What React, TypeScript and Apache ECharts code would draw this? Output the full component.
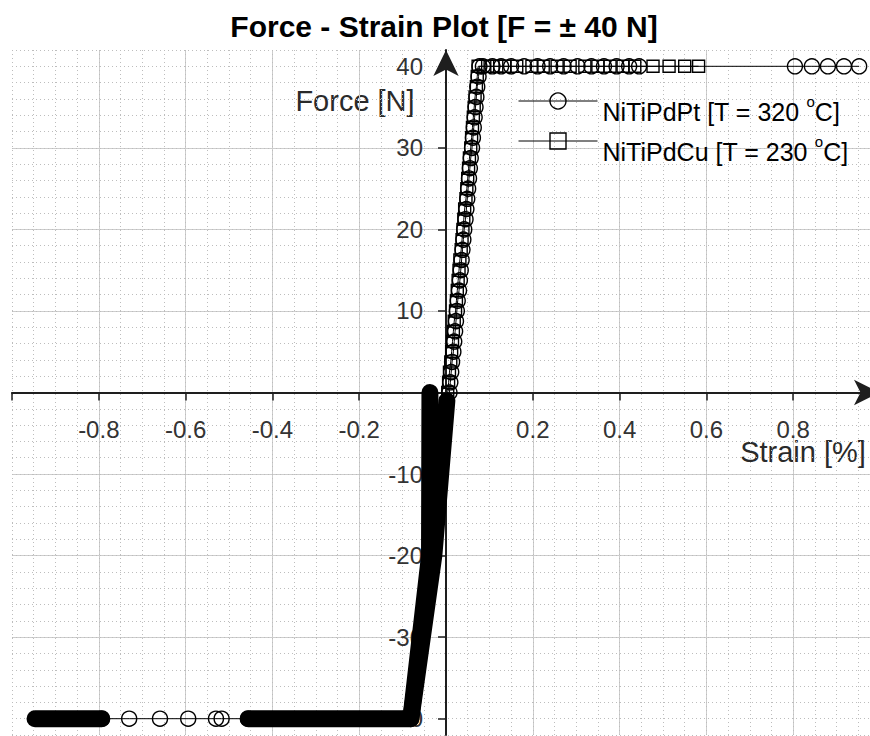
import { useEffect, useRef } from 'react';
import * as echarts from 'echarts';

const FONT = '"Liberation Sans", Arial, Helvetica, sans-serif';

// Axis ticks and the values that carry a label
const xTickValues = [-1, -0.8, -0.6, -0.4, -0.2, 0, 0.2, 0.4, 0.6, 0.8, 1];
const xTickLabels = [-0.8, -0.6, -0.4, -0.2, 0.2, 0.4, 0.6, 0.8];
const yTickValues = [-40, -30, -20, -10, 0, 10, 20, 30, 40];
const yTickLabels = [-40, -30, -20, -10, 10, 20, 30, 40];

// Legend entries
const alloys = ['NiTiPdPt', 'NiTiPdCu'];
const temperatures = [320, 230];

// Tension loading ramp, force steps shared by both alloys [N]
const rampForce = [
  0, 1.25, 2.5, 3.75, 5, 6.25, 7.5, 8.75, 10, 11.25, 12.5, 13.75, 15, 16.25, 17.5, 18.75, 20,
  21.25, 22.5, 23.75, 25, 26.25, 27.5, 28.75, 30, 31.25, 32.5, 33.75, 35, 36.25, 37.5, 38.75, 40,
];
const creepForce = 40;
const compressionForce = -40;

// NiTiPdCu strain [%]: ramp, then creep at 40 N
const cuRampStrain = [
  0.004, 0.006, 0.008, 0.011, 0.013, 0.015, 0.017, 0.019, 0.022, 0.024, 0.026, 0.028, 0.03, 0.032,
  0.035, 0.037, 0.039, 0.041, 0.043, 0.046, 0.048, 0.05, 0.052, 0.054, 0.057, 0.059, 0.061, 0.063,
  0.065, 0.067, 0.07, 0.072, 0.074,
];
const cuCreepStrain = [
  0.096, 0.117, 0.136, 0.163, 0.198, 0.224, 0.256, 0.286, 0.32, 0.35, 0.378, 0.408, 0.435, 0.477,
  0.514, 0.55, 0.582,
];

// NiTiPdPt strain [%]: ramp, then creep at 40 N
const ptRampStrain = [
  0.008, 0.01, 0.012, 0.014, 0.017, 0.019, 0.021, 0.023, 0.025, 0.027, 0.03, 0.032, 0.034, 0.036,
  0.038, 0.04, 0.042, 0.045, 0.047, 0.049, 0.051, 0.053, 0.055, 0.057, 0.06, 0.062, 0.064, 0.066,
  0.068, 0.07, 0.072, 0.075, 0.077,
];
const ptCreepStrain = [
  0.085, 0.107, 0.127, 0.15, 0.18, 0.211, 0.24, 0.271, 0.303, 0.335, 0.364, 0.393, 0.422, 0.445,
  0.804, 0.843, 0.88, 0.917, 0.952,
];

// NiTiPdPt compression: separate markers along -40 N
const ptCompressionStrain = [-0.793, -0.73, -0.659, -0.594, -0.53, -0.517, -0.456];

// NiTiPdPt compression runs sampled so densely that the markers merge into solid bands
const ptBandMainStrain = [-0.037, -0.038, -0.081, -0.456];
const ptBandMainForce = [0, -20, -40, -40];
const ptBandReturnStrain = [0.002, -0.028, -0.081];
const ptBandReturnForce = [-1, -20, -40];
const ptBandTailStrain = [-0.947, -0.793];
const ptBandTailForce = [-40, -40];

const pairs = (xs: number[], ys: number[]) => xs.map((x, i) => [x, ys[i]]);
const atForce = (xs: number[], f: number) => xs.map((x) => [x, f]);

const hollow = { color: 'transparent', borderColor: '#000', borderWidth: 1.4 };
const thinLine = { color: '#000', width: 1 };
const bandLine = { color: '#000', width: 17, cap: 'round' as const, join: 'round' as const };
const axisInk = '#1e1e1e';

// Plot frame: the axes cross at the origin, drawn as edge axes shifted inward
const GRID = { left: 12, right: -10, top: 50, bottom: 1 };
const X_RANGE = [-1, 1];
const Y_RANGE = [-42, 42];

export default function App() {
  const ref = useRef<HTMLDivElement>(null);

  useEffect(() => {
    if (!ref.current) return;
    const el = ref.current;
    const chart = echarts.init(el, undefined, { renderer: 'svg' });

    const plotW = el.clientWidth - GRID.left - GRID.right;
    const plotH = el.clientHeight - GRID.top - GRID.bottom;
    // distance from the grid's left / bottom edge to the zero line
    const yAxisShift = (plotW * (0 - X_RANGE[0])) / (X_RANGE[1] - X_RANGE[0]);
    const xAxisShift = (plotH * (0 - Y_RANGE[0])) / (Y_RANGE[1] - Y_RANGE[0]);

    const bandSeries = (xs: number[], ys: number[]) => ({
      name: 'NiTiPdPt',
      type: 'line' as const,
      data: pairs(xs, ys),
      symbol: 'none',
      lineStyle: bandLine,
      silent: true,
      z: 2,
    });

    chart.setOption({
      animation: false,
      textStyle: { fontFamily: FONT },
      title: {
        text: 'Force - Strain Plot [F = \u00b1 40 N]',
        left: 444,
        textAlign: 'center',
        top: 11,
        padding: 0,
        textStyle: { fontFamily: FONT, fontSize: 30, fontWeight: 'bold', color: '#000' },
      },
      grid: { ...GRID, containLabel: false, outerBoundsMode: 'none' },
      legend: {
        data: alloys,
        orient: 'vertical',
        left: 518,
        top: 78,
        padding: 0,
        itemWidth: 79,
        itemHeight: 20,
        itemGap: -6,
        itemStyle: hollow,
        lineStyle: thinLine,
        formatter: (name: string) => {
          const t = temperatures[alloys.indexOf(name)];
          return `{b|${name} [T = ${t} }{s|o}{b|C]}`;
        },
        textStyle: {
          fontFamily: FONT,
          fontSize: 25,
          color: '#000',
          rich: {
            b: { fontFamily: FONT, fontSize: 25, lineHeight: 28, color: '#000', padding: [21, 0, 0, 0] },
            s: { fontFamily: FONT, fontSize: 15, lineHeight: 15, color: '#000' },
          },
        },
      },
      xAxis: [
        {
          type: 'value',
          min: X_RANGE[0],
          max: X_RANGE[1],
          interval: 0.2,
          position: 'bottom',
          offset: -xAxisShift,
          axisLine: {
            onZero: false,
            lineStyle: { color: axisInk, width: 2 },
            symbol: ['none', 'arrow'],
            symbolSize: [19, 26],
            symbolOffset: [0, 0],
          },
          axisTick: { show: true, length: 8, lineStyle: { color: axisInk, width: 1.5 }, customValues: xTickValues },
          axisLabel: {
            customValues: xTickLabels,
            margin: 25,
            fontSize: 24,
            color: '#333',
            fontFamily: FONT,
            formatter: (v: number) => String(v),
          },
          splitLine: { show: true, showMinLine: false, showMaxLine: false, lineStyle: { color: '#cdcdcd', width: 1 } },
        },
        {
          type: 'value',
          min: X_RANGE[0],
          max: X_RANGE[1],
          interval: 0.05,
          position: 'top',
          axisLine: { show: false, onZero: false },
          axisTick: { show: false },
          axisLabel: { show: false },
          splitLine: { show: true, lineStyle: { color: '#bdbdbd', width: 1, type: [1, 3] } },
        },
      ],
      yAxis: [
        {
          type: 'value',
          min: Y_RANGE[0],
          max: Y_RANGE[1],
          splitNumber: 8,
          position: 'left',
          offset: -yAxisShift,
          axisLine: {
            onZero: false,
            lineStyle: { color: axisInk, width: 2 },
            symbol: ['none', 'arrow'],
            symbolSize: [19, 26],
            symbolOffset: [0, 0],
          },
          axisTick: { show: true, length: 8, lineStyle: { color: axisInk, width: 1.5 }, customValues: yTickValues },
          axisLabel: {
            customValues: yTickLabels,
            margin: 23,
            fontSize: 24,
            color: '#333',
            fontFamily: FONT,
            formatter: (v: number) => String(v),
          },
          splitLine: { show: true, showMinLine: false, showMaxLine: false, lineStyle: { color: '#cdcdcd', width: 1 } },
        },
        {
          type: 'value',
          min: Y_RANGE[0],
          max: Y_RANGE[1],
          interval: 2,
          position: 'right',
          axisLine: { show: false, onZero: false },
          axisTick: { show: false },
          axisLabel: { show: false },
          splitLine: { show: true, lineStyle: { color: '#bdbdbd', width: 1, type: [1, 3] } },
        },
      ],
      graphic: [
        {
          type: 'text',
          x: 355,
          y: 101,
          style: {
            text: 'Force [N]',
            fontFamily: FONT,
            fontSize: 29,
            fill: '#2a2a2a',
            align: 'center',
            verticalAlign: 'middle',
          },
        },
        {
          type: 'text',
          x: 803,
          y: 452,
          style: {
            text: 'Strain [%]',
            fontFamily: FONT,
            fontSize: 29,
            fill: '#2a2a2a',
            align: 'center',
            verticalAlign: 'middle',
          },
        },
      ],
      series: [
        {
          name: 'NiTiPdPt',
          type: 'line',
          data: [...pairs(ptRampStrain, rampForce), ...atForce(ptCreepStrain, creepForce)],
          symbol: 'circle',
          symbolSize: 15,
          itemStyle: hollow,
          lineStyle: thinLine,
          z: 3,
        },
        {
          name: 'NiTiPdCu',
          type: 'line',
          data: [...pairs(cuRampStrain, rampForce), ...atForce(cuCreepStrain, creepForce)],
          symbol: 'rect',
          symbolSize: 12,
          itemStyle: hollow,
          lineStyle: thinLine,
          z: 3,
        },
        {
          name: 'NiTiPdPt',
          type: 'line',
          data: atForce(ptCompressionStrain, compressionForce),
          symbol: 'circle',
          symbolSize: 15,
          itemStyle: hollow,
          lineStyle: thinLine,
          z: 3,
        },
        bandSeries(ptBandMainStrain, ptBandMainForce),
        bandSeries(ptBandReturnStrain, ptBandReturnForce),
        bandSeries(ptBandTailStrain, ptBandTailForce),
      ],
    });

    return () => chart.dispose();
  }, []);

  return <div ref={ref} style={{ position: 'fixed', left: 0, top: 0, width: 870, height: 736, background: '#fff' }} />;
}
